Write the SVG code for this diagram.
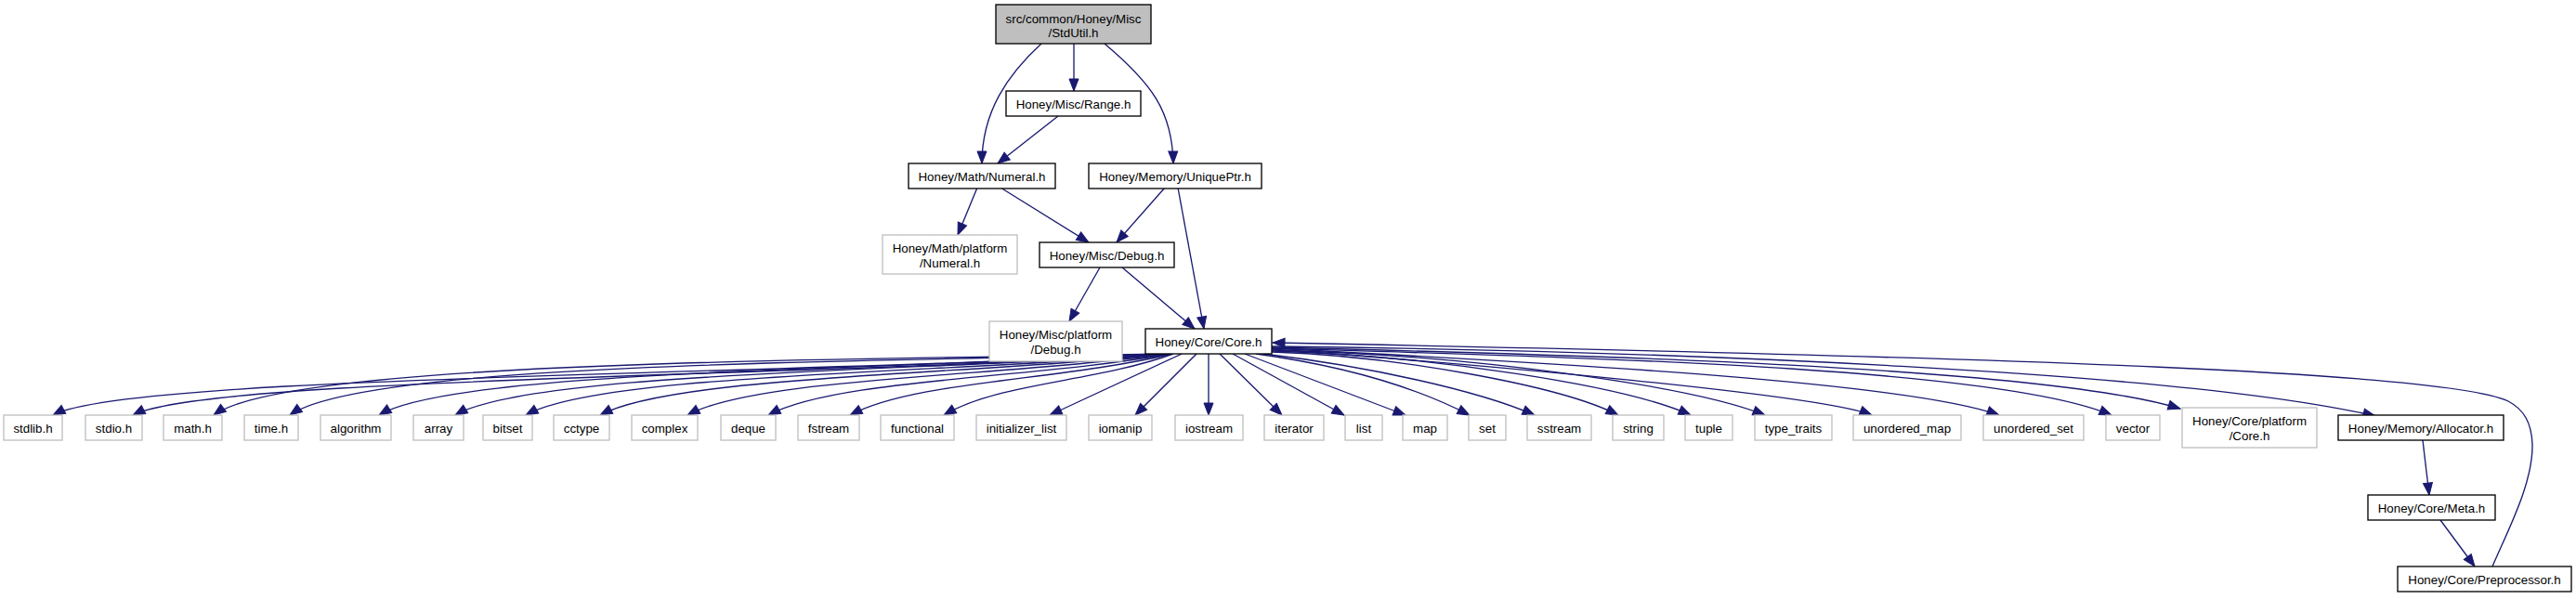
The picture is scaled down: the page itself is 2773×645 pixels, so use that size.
<svg xmlns="http://www.w3.org/2000/svg" width="2773" height="645" viewBox="0 0 2773 645">
<style>
.n rect{fill:#ffffff;stroke:#000000;stroke-width:1.33}
.n.sys rect{stroke:#bfbfbf}
.n.root rect{fill:#bfbfbf}
.n text{font-family:"Liberation Sans",Arial,Helvetica,sans-serif;font-size:13.33px;fill:#000000;text-anchor:middle}
#edges path{fill:none;stroke:#191970;stroke-width:1.33;marker-end:url(#arr)}
</style>
<defs>
<marker id="arr" markerWidth="15" markerHeight="12" refX="13" refY="5" orient="auto" markerUnits="userSpaceOnUse" overflow="visible">
<path d="M0,0 L13,5 L0,10 Z" fill="#191970" stroke="#191970" stroke-width="1"/>
</marker>
</defs>
<rect x="0" y="0" width="2773" height="645" fill="#ffffff"/>
<g id="edges">
<path d="M1121,47 C1085,80 1057,120 1057,176"/>
<path d="M1156,47 L1156,98"/>
<path d="M1189,47 C1240,90 1262,120 1263,176"/>
<path d="M1139,125 L1074,176"/>
<path d="M1052,202 L1031,253"/>
<path d="M1077,202 L1172,261"/>
<path d="M1254,202 L1202,261"/>
<path d="M1268,202 L1296,354"/>
<path d="M1184,288 L1151,346"/>
<path d="M1208,288 L1286,354"/>
<path d="M1256,381 C836,404 137,404 57,447"/>
<path d="M1256,381 C866,406 223,406 143,447"/>
<path d="M1257,381 C898,388 310,388 230,447"/>
<path d="M1257,381 C926,390 392,390 312,447"/>
<path d="M1258,381 C960,398 488,398 408,447"/>
<path d="M1258,381 C989,400 570,400 490,447"/>
<path d="M1259,381 C1016,402 646,402 566,447"/>
<path d="M1259,381 C1044,404 726,404 646,447"/>
<path d="M1260,381 C1078,406 815,406 740,447"/>
<path d="M1261,381 C1109,408 900,408 827,447"/>
<path d="M1262,381 C1140,410 985,410 915,447"/>
<path d="M1263,381 C1177,412 1075,412 1016,447"/>
<path d="M1272,381 L1130,447"/>
<path d="M1288,381 L1222,447"/>
<path d="M1301,381 L1301,447"/>
<path d="M1313,381 L1380,447"/>
<path d="M1327,381 L1447,447"/>
<path d="M1340,381 L1513,447"/>
<path d="M1352,381 C1440,393 1520,415 1582,447"/>
<path d="M1360,381 C1470,394 1590,420 1652,447"/>
<path d="M1369,379 C1500,383 1680,415 1742,447"/>
<path d="M1369,378 C1540,383 1750,415 1820,447"/>
<path d="M1369,377 C1580,382 1820,415 1900,447"/>
<path d="M1369,376 C1600,393 1960,425 2015,447"/>
<path d="M1369,375 C1650,390 2050,410 2152,447"/>
<path d="M1369,375 C1700,385 2150,395 2273,447"/>
<path d="M1369,374 C1700,382 2200,395 2347,440"/>
<path d="M1369,373 C1800,378 2350,400 2557,448"/>
<path d="M2608,474 L2615,533"/>
<path d="M2627,560 L2664,610"/>
<path d="M2683,610 C2700,570 2727,520 2726,478 C2725,455 2717,441 2700,432 C2640,402 2200,385 1370,369"/>
</g>
<g id="n_root" class="n root"><rect x="1072" y="5" width="167" height="42"/><text x="1155.5" y="24.5">src/common/Honey/Misc</text><text x="1155.5" y="40">/StdUtil.h</text></g>
<g id="n_range" class="n"><rect x="1083" y="98" width="145" height="27"/><text x="1155.5" y="116.5">Honey/Misc/Range.h</text></g>
<g id="n_numeral" class="n"><rect x="978" y="176" width="158" height="27"/><text x="1057" y="194.5">Honey/Math/Numeral.h</text></g>
<g id="n_uniqueptr" class="n"><rect x="1172" y="176" width="186" height="27"/><text x="1265" y="194.5">Honey/Memory/UniquePtr.h</text></g>
<g id="n_numplat" class="n sys"><rect x="950" y="253" width="145" height="42"/><text x="1022.5" y="272">Honey/Math/platform</text><text x="1022.5" y="288">/Numeral.h</text></g>
<g id="n_debug" class="n"><rect x="1119" y="261" width="145" height="27"/><text x="1191.5" y="279.5">Honey/Misc/Debug.h</text></g>
<g id="n_debugplat" class="n sys"><rect x="1065" y="346" width="143" height="43"/><text x="1136.5" y="365">Honey/Misc/platform</text><text x="1136.5" y="381">/Debug.h</text></g>
<g id="n_core" class="n"><rect x="1233" y="354" width="136" height="27"/><text x="1301" y="372.5">Honey/Core/Core.h</text></g>
<g id="n_stdlib" class="n sys"><rect x="4" y="447" width="63" height="27"/><text x="35.5" y="465.5">stdlib.h</text></g>
<g id="n_stdio" class="n sys"><rect x="92" y="447" width="61" height="27"/><text x="122.5" y="465.5">stdio.h</text></g>
<g id="n_math" class="n sys"><rect x="176" y="447" width="63" height="27"/><text x="207.5" y="465.5">math.h</text></g>
<g id="n_time" class="n sys"><rect x="263" y="447" width="58" height="27"/><text x="292" y="465.5">time.h</text></g>
<g id="n_algorithm" class="n sys"><rect x="345" y="447" width="76" height="27"/><text x="383" y="465.5">algorithm</text></g>
<g id="n_array" class="n sys"><rect x="445" y="447" width="54" height="27"/><text x="472" y="465.5">array</text></g>
<g id="n_bitset" class="n sys"><rect x="520" y="447" width="53" height="27"/><text x="546.5" y="465.5">bitset</text></g>
<g id="n_cctype" class="n sys"><rect x="596" y="447" width="60" height="27"/><text x="626" y="465.5">cctype</text></g>
<g id="n_complex" class="n sys"><rect x="680" y="447" width="71" height="27"/><text x="715.5" y="465.5">complex</text></g>
<g id="n_deque" class="n sys"><rect x="776" y="447" width="59" height="27"/><text x="805.5" y="465.5">deque</text></g>
<g id="n_fstream" class="n sys"><rect x="859" y="447" width="66" height="27"/><text x="892" y="465.5">fstream</text></g>
<g id="n_functional" class="n sys"><rect x="948" y="447" width="79" height="27"/><text x="987.5" y="465.5">functional</text></g>
<g id="n_initlist" class="n sys"><rect x="1051" y="447" width="97" height="27"/><text x="1099.5" y="465.5">initializer_list</text></g>
<g id="n_iomanip" class="n sys"><rect x="1172" y="447" width="68" height="27"/><text x="1206" y="465.5">iomanip</text></g>
<g id="n_iostream" class="n sys"><rect x="1265" y="447" width="73" height="27"/><text x="1301.5" y="465.5">iostream</text></g>
<g id="n_iterator" class="n sys"><rect x="1361" y="447" width="64" height="27"/><text x="1393" y="465.5">iterator</text></g>
<g id="n_list" class="n sys"><rect x="1448" y="447" width="40" height="27"/><text x="1468" y="465.5">list</text></g>
<g id="n_map" class="n sys"><rect x="1510" y="447" width="48" height="27"/><text x="1534" y="465.5">map</text></g>
<g id="n_set" class="n sys"><rect x="1581" y="447" width="40" height="27"/><text x="1601" y="465.5">set</text></g>
<g id="n_sstream" class="n sys"><rect x="1644" y="447" width="69" height="27"/><text x="1678.5" y="465.5">sstream</text></g>
<g id="n_string" class="n sys"><rect x="1736" y="447" width="55" height="27"/><text x="1763.5" y="465.5">string</text></g>
<g id="n_tuple" class="n sys"><rect x="1814" y="447" width="51" height="27"/><text x="1839.5" y="465.5">tuple</text></g>
<g id="n_typetraits" class="n sys"><rect x="1889" y="447" width="83" height="27"/><text x="1930.5" y="465.5">type_traits</text></g>
<g id="n_umap" class="n sys"><rect x="1995" y="447" width="116" height="27"/><text x="2053" y="465.5">unordered_map</text></g>
<g id="n_uset" class="n sys"><rect x="2135" y="447" width="108" height="27"/><text x="2189" y="465.5">unordered_set</text></g>
<g id="n_vector" class="n sys"><rect x="2267" y="447" width="58" height="27"/><text x="2296" y="465.5">vector</text></g>
<g id="n_coreplat" class="n sys"><rect x="2349" y="439" width="145" height="43"/><text x="2421.5" y="458">Honey/Core/platform</text><text x="2421.5" y="474">/Core.h</text></g>
<g id="n_allocator" class="n"><rect x="2517" y="447" width="178" height="27"/><text x="2606" y="465.5">Honey/Memory/Allocator.h</text></g>
<g id="n_meta" class="n"><rect x="2549" y="533" width="137" height="27"/><text x="2617.5" y="551.5">Honey/Core/Meta.h</text></g>
<g id="n_preproc" class="n"><rect x="2581" y="610" width="187" height="27"/><text x="2674.5" y="628.5">Honey/Core/Preprocessor.h</text></g>
</svg>
